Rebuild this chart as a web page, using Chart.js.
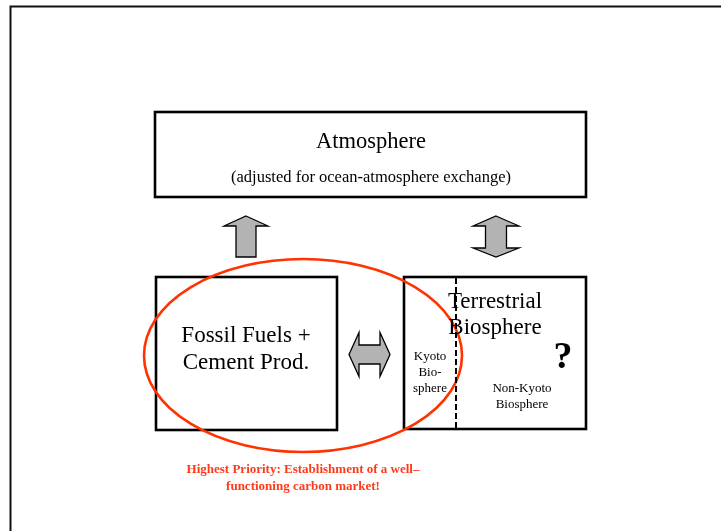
<!DOCTYPE html>
<html>
<head>
<meta charset="utf-8">
<script src="https://cdn.jsdelivr.net/npm/chart.js@4/dist/chart.umd.min.js"></script>
<style>
html,body{margin:0;padding:0;background:#fff;}
#wrap{width:721px;height:531px;}
</style>
</head>
<body>
<div id="wrap"><canvas id="c" width="721" height="531"></canvas></div>
<script>
// Diagram content (text) and layout in the diagram's own coordinate space (0..721 x 0..531)
const boxNames = ["Atmosphere", "Fossil Fuels + Cement Prod.", "Terrestrial Biosphere"];
const boxX1 = [155, 156, 404];
const boxY1 = [112, 277, 277];
const boxX2 = [586, 337, 586];
const boxY2 = [197, 430, 429];

const textLines = ["Atmosphere", "(adjusted for ocean-atmosphere exchange)", "Fossil Fuels +", "Cement Prod.",
  "Terrestrial", "Biosphere", "Kyoto", "Bio-", "sphere", "Non-Kyoto", "Biosphere", "?",
  "Highest Priority: Establishment of a well\u2013", "functioning carbon market!"];
const textX = [371, 371, 246, 246, 495, 495, 430, 430, 430, 522, 522, 563, 303, 303];
const textY = [142, 178, 336, 363, 302, 328, 357, 373, 389, 389, 405, 358, 470, 487];
const textSize = [22.5, 16.5, 23, 23, 23, 23, 13, 13, 13, 13, 13, 38, 13, 13];
const textBold = [false, false, false, false, false, false, false, false, false, false, false, true, true, true];
const textRed = [false, false, false, false, false, false, false, false, false, false, false, false, true, true];

const dividerX = [456];
const ellipseCX = [303], ellipseCY = [355.5], ellipseRX = [159], ellipseRY = [96.5];

const arrowKind = ["up", "updown", "leftright"];
const arrowCX = [246, 496, 369.5];
const arrowCY = [236.5, 236.5, 354.5];

const framePlugin = {
  id: 'diagram',
  afterDraw(chart) {
    const ctx = chart.ctx;
    const xs = chart.scales.x, ys = chart.scales.y;
    const X = v => xs.getPixelForValue(v);
    const Y = v => ys.getPixelForValue(v);
    ctx.save();
    // outer frame
    ctx.strokeStyle = '#111';
    ctx.lineWidth = 2;
    ctx.strokeRect(X(10.5), Y(6.5), X(760) - X(10.5), Y(600) - Y(6.5));
    // boxes
    ctx.lineWidth = 2.6;
    for (let i = 0; i < boxNames.length; i++) {
      ctx.strokeStyle = '#000';
      ctx.strokeRect(X(boxX1[i]), Y(boxY1[i]), X(boxX2[i]) - X(boxX1[i]), Y(boxY2[i]) - Y(boxY1[i]));
    }
    // ellipse
    ctx.strokeStyle = '#ff3300';
    ctx.lineWidth = 2.6;
    ctx.beginPath();
    ctx.ellipse(X(ellipseCX[0]), Y(ellipseCY[0]), X(ellipseCX[0] + ellipseRX[0]) - X(ellipseCX[0]), Y(ellipseCY[0] + ellipseRY[0]) - Y(ellipseCY[0]), 0, 0, Math.PI * 2);
    ctx.stroke();
    // dashed divider
    ctx.strokeStyle = '#000';
    ctx.setLineDash([6, 3]);
    ctx.lineWidth = 2;
    ctx.beginPath();
    ctx.moveTo(X(dividerX[0]), Y(278));
    ctx.lineTo(X(dividerX[0]), Y(429));
    ctx.stroke();
    ctx.setLineDash([]);
    // arrows
    ctx.fillStyle = '#b3b3b3';
    ctx.strokeStyle = '#000';
    ctx.lineWidth = 1.3;
    ctx.lineJoin = 'miter';
    for (let i = 0; i < arrowKind.length; i++) {
      const cx = arrowCX[i], cy = arrowCY[i];
      let pts;
      if (arrowKind[i] === 'up') {
        pts = [[0,-20.5],[22,-10.5],[10,-10.5],[10,20.5],[-10,20.5],[-10,-10.5],[-22,-10.5]];
      } else if (arrowKind[i] === 'updown') {
        pts = [[0,-20.5],[23,-10.5],[10.5,-10.5],[10.5,11.5],[23,11.5],[0,20.5],[-23,11.5],[-10.5,11.5],[-10.5,-10.5],[-23,-10.5]];
      } else {
        pts = [[-20.5,0],[-10.5,-22],[-10.5,-9.5],[10.5,-9.5],[10.5,-22],[20.5,0],[10.5,22],[10.5,9.5],[-10.5,9.5],[-10.5,22]];
      }
      ctx.beginPath();
      pts.forEach((p, k) => { const px = X(cx + p[0]), py = Y(cy + p[1]); if (k) ctx.lineTo(px, py); else ctx.moveTo(px, py); });
      ctx.closePath();
      ctx.fill();
      ctx.stroke();
    }
    // texts
    ctx.textAlign = 'center';
    ctx.textBaseline = 'middle';
    for (let i = 0; i < textLines.length; i++) {
      ctx.font = (textBold[i] ? 'bold ' : '') + textSize[i] + 'px "Liberation Serif", "Times New Roman", serif';
      ctx.fillStyle = textRed[i] ? '#ff3a1a' : '#000';
      ctx.fillText(textLines[i], X(textX[i]), Y(textY[i]));
    }
    ctx.restore();
  }
};

new Chart(document.getElementById('c'), {
  type: 'scatter',
  data: { datasets: [{ data: [], showLine: false }] },
  options: {
    responsive: false,
    animation: false,
    layout: { padding: 0 },
    plugins: { legend: { display: false }, tooltip: { enabled: false } },
    scales: {
      x: { type: 'linear', min: 0, max: 721, display: false },
      y: { type: 'linear', min: 0, max: 531, reverse: true, display: false }
    }
  },
  plugins: [framePlugin]
});
</script>
</body>
</html>
